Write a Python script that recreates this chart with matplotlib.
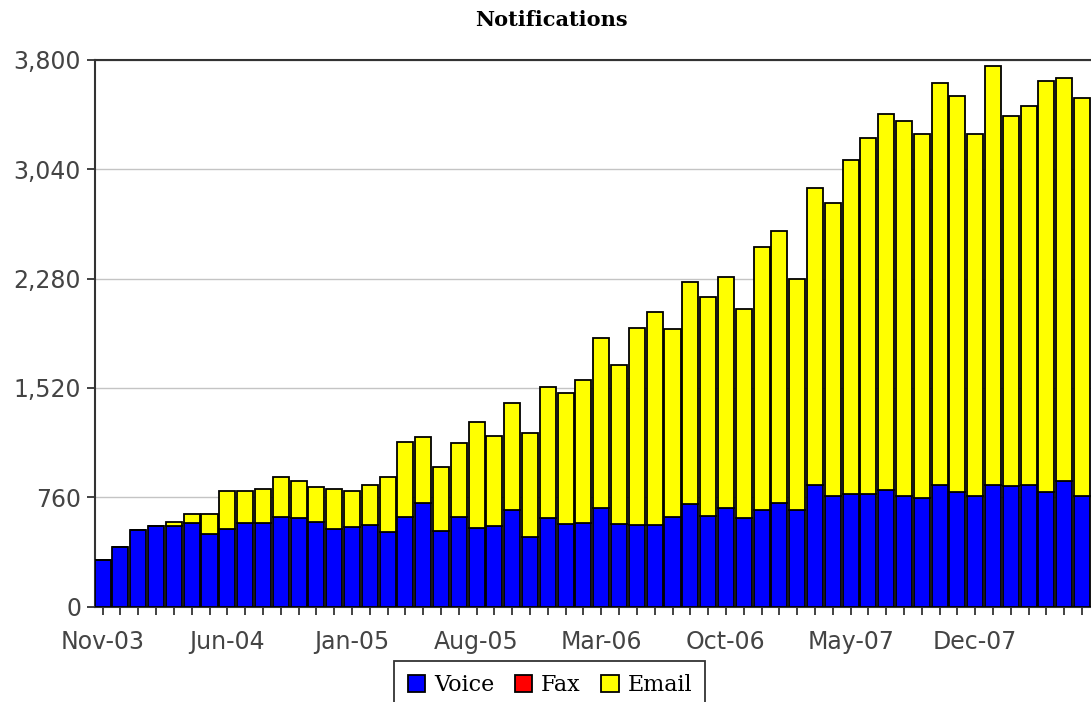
import matplotlib.pyplot as plt
import numpy as np

# monthly notifications, Nov-03 .. Jun-08
voice = [323, 416, 532, 559, 559, 583, 502, 541, 583, 583,
         624, 613, 585, 539, 555, 566, 516, 624, 721, 527,
         620, 543, 559, 671, 485, 613, 573, 583, 682, 571,
         566, 566, 624, 710, 629, 682, 617, 671, 722, 671,
         844, 767, 782, 782, 807, 769, 754, 844, 794, 767,
         844, 837, 844, 794, 875, 769]
fax = [0, 0, 0, 0, 0, 0, 0, 0, 0, 0,
       0, 0, 0, 0, 0, 0, 0, 0, 0, 0,
       0, 0, 0, 0, 0, 0, 0, 0, 0, 0,
       0, 0, 0, 0, 0, 0, 0, 0, 0, 0,
       0, 0, 0, 0, 0, 0, 0, 0, 0, 0,
       0, 0, 0, 0, 0, 0]
email = [0, 0, 0, 0, 30, 58, 139, 264, 222, 234,
         278, 261, 248, 280, 250, 278, 386, 517, 459, 443,
         520, 737, 626, 746, 723, 915, 913, 991, 1182, 1111,
         1369, 1479, 1309, 1543, 1524, 1610, 1455, 1830, 1890, 1604,
         2065, 2041, 2322, 2477, 2615, 2610, 2530, 2798, 2755, 2518,
         2916, 2573, 2635, 2861, 2797, 2766]
tick_labels = ['Nov-03', 'Jun-04', 'Jan-05', 'Aug-05', 'Mar-06', 'Oct-06', 'May-07', 'Dec-07']
y_ticks = [0, 760, 1520, 2280, 3040, 3800]

x = np.arange(len(voice))
voice = np.array(voice)
fax = np.array(fax)
email = np.array(email)

fig = plt.figure(figsize=(10.91, 7.02), dpi=100)
ax = fig.add_axes([95 / 1091, 95.5 / 702, 1 - 95 / 1091, 546.5 / 702])

bar_kw = dict(width=0.9, edgecolor='black', linewidth=1.3, zorder=3)
ax.bar(x, voice, color='#0000ff', label='Voice', **bar_kw)
ax.bar(x, fax, bottom=voice, color='#ff0000', label='Fax', **bar_kw)
ax.bar(x, email, bottom=voice + fax, color='#ffff00', label='Email', **bar_kw)

ax.set_ylim(0, 3800)
ax.set_xlim(-0.43, 55.5)
ax.set_yticks(y_ticks)
ax.set_yticklabels(['{:,}'.format(v) for v in y_ticks])
ax.yaxis.grid(True, color='#c4c4c4', linewidth=1, zorder=0)

# tick on every month, label every 7th
ax.set_xticks(x)
labels = [''] * len(x)
for i, t in enumerate(tick_labels):
    labels[i * 7] = t
ax.set_xticklabels(labels)

ax.tick_params(axis='both', colors='#333333', labelcolor='#444444', labelsize=17,
               length=6, width=1.3)
ax.tick_params(axis='y', pad=4)
ax.tick_params(axis='x', pad=11)
for s in ['left', 'top', 'bottom']:
    ax.spines[s].set_color('#333333')
    ax.spines[s].set_linewidth(1.5)
ax.spines['right'].set_visible(False)

fig.text(0.505, 0.971, 'Notifications', ha='center', va='center',
         family='DejaVu Serif', fontweight='bold', fontsize=15)

leg = fig.legend(loc='upper center', bbox_to_anchor=(0.504, 1 - 661 / 702), ncol=3,
                 prop={'family': 'DejaVu Serif', 'size': 16}, frameon=True,
                 fancybox=False, edgecolor='black', handlelength=0.8, handleheight=0.8,
                 handletextpad=0.4, columnspacing=0.9, borderpad=0.6, borderaxespad=0)
leg.get_frame().set_linewidth(1.3)

fig.savefig('out.png', dpi=100)
